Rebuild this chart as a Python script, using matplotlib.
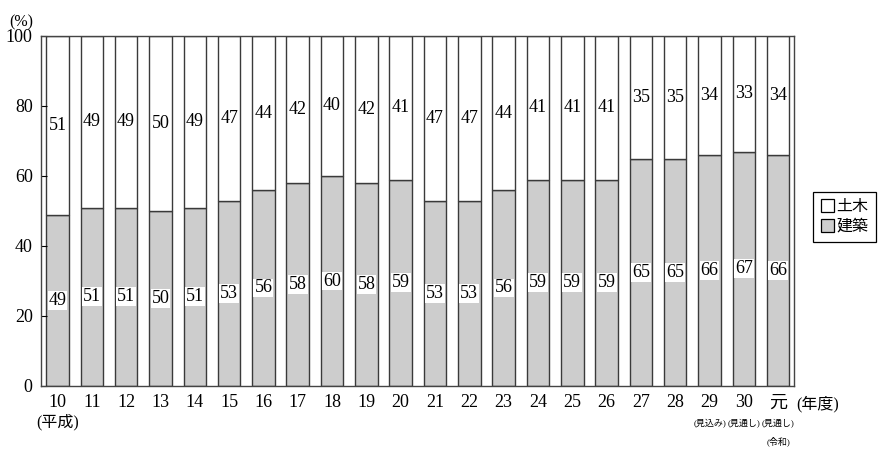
import matplotlib
matplotlib.use("Agg")
import matplotlib.pyplot as plt
from matplotlib import font_manager
from matplotlib.patches import Patch


def first_available(names):
    for name in names:
        try:
            font_manager.findfont(font_manager.FontProperties(family=name),
                                  fallback_to_default=False)
            return name
        except ValueError:
            continue
    return 'DejaVu Serif'


serif = first_available(['Liberation Serif', 'Nimbus Roman', 'Times New Roman', 'DejaVu Serif'])
plt.rcParams['font.family'] = [serif, 'Noto Sans CJK JP']

# 年度別 建設投資の構成比 (%)
years = ['10', '11', '12', '13', '14', '15', '16', '17', '18', '19', '20',
         '21', '22', '23', '24', '25', '26', '27', '28', '29', '30', '元']
kenchiku = [49, 51, 51, 50, 51, 53, 56, 58, 60, 58, 59,
            53, 53, 56, 59, 59, 59, 65, 65, 66, 67, 66]
doboku = [51, 49, 49, 50, 49, 47, 44, 42, 40, 42, 41,
          47, 47, 44, 41, 41, 41, 35, 35, 34, 33, 34]
year_notes = {'10': '(平成)', '29': '(見込み)', '30': '(見通し)', '元': '(見通し)'}
era_note = {'元': '(令和)'}

GRAY = '#cdcdcd'
EDGE = '#3a3a3a'
NUM_SIZE = 13 if serif != 'DejaVu Serif' else 11.5

fig = plt.figure(figsize=(8.79, 4.5), dpi=100)
ax = fig.add_axes([41 / 879, 1 - 386 / 450, (794 - 41) / 879, 350 / 450])

x = list(range(len(years)))
width = 0.655
ax.bar(x, kenchiku, width, color=GRAY, edgecolor=EDGE, linewidth=1.0)
ax.bar(x, doboku, width, bottom=kenchiku, color='white', edgecolor=EDGE, linewidth=1.0)

for i, (k, d) in enumerate(zip(kenchiku, doboku)):
    ax.text(i, k / 2, str(k), ha='center', va='center', fontsize=NUM_SIZE,
            bbox=dict(boxstyle='square,pad=0.05', facecolor='white', edgecolor='none'))
    ax.text(i, k + d / 2, str(d), ha='center', va='center', fontsize=NUM_SIZE)

ax.set_xlim(-0.48, 21.46)
ax.set_ylim(0, 100)
ax.set_yticks([0, 20, 40, 60, 80, 100])
ax.tick_params(axis='y', direction='in', length=4, width=0.8, pad=6, labelsize=NUM_SIZE)
ax.set_xticks(x)
ax.set_xticklabels(years)
ax.tick_params(axis='x', length=0, pad=6, labelsize=NUM_SIZE)
for s in ax.spines.values():
    s.set_color('#444444')
    s.set_linewidth(1.0)

for i, y in enumerate(years):
    note = year_notes.get(y)
    if note is None:
        continue
    if y == '10':
        ax.annotate(note, xy=(i, 0), xycoords=('data', 'axes fraction'),
                    xytext=(0, -20), textcoords='offset points',
                    ha='center', va='top', fontsize=11.5)
    else:
        ax.annotate(note, xy=(i, 0), xycoords=('data', 'axes fraction'),
                    xytext=(0, -23.5), textcoords='offset points',
                    ha='center', va='top', fontsize=6.5)
    if y in era_note:
        ax.annotate(era_note[y], xy=(i, 0), xycoords=('data', 'axes fraction'),
                    xytext=(0, -36.5), textcoords='offset points',
                    ha='center', va='top', fontsize=6.5)

fig.text(818 / 879, 1 - 404 / 450, '(年度)', ha='center', va='center', fontsize=11.5)
fig.text(21 / 879, 1 - 22 / 450, '(%)', ha='center', va='center', fontsize=11.5)

handles = [Patch(facecolor='white', edgecolor='black', linewidth=0.9),
           Patch(facecolor=GRAY, edgecolor='black', linewidth=0.9)]
leg = fig.legend(handles, ['土木', '建築'], loc='center',
                 bbox_to_anchor=(844.5 / 879, 1 - 217 / 450),
                 fontsize=11.5, handlelength=0.85, handleheight=0.85,
                 handletextpad=0.15, borderpad=0.45, labelspacing=0.25,
                 fancybox=False, framealpha=1, edgecolor='black')
leg.get_frame().set_linewidth(0.9)

fig.savefig('out.png', dpi=100)
